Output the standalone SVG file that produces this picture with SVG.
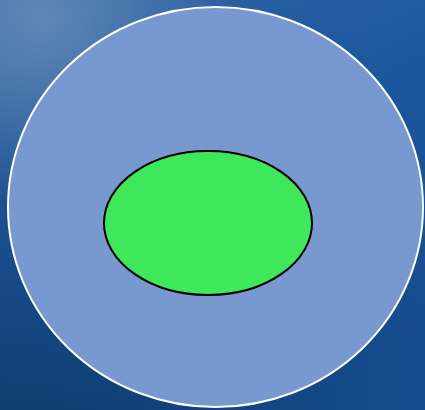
<svg xmlns="http://www.w3.org/2000/svg" width="425" height="410" viewBox="0 0 425 410">
<defs>
<linearGradient id="bg" x1="0" y1="0" x2="0.3" y2="1">
<stop offset="0" stop-color="#3a6aa6"/>
<stop offset="0.5" stop-color="#1a4f8f"/>
<stop offset="1" stop-color="#0f3a6c"/>
</linearGradient>
<radialGradient id="glow" cx="0.1" cy="0.05" r="0.45">
<stop offset="0" stop-color="#6f95be" stop-opacity="0.7"/>
<stop offset="1" stop-color="#6f95be" stop-opacity="0"/>
</radialGradient>
<linearGradient id="right" x1="0" y1="0" x2="1" y2="0">
<stop offset="0" stop-color="#1a5aa6" stop-opacity="0"/>
<stop offset="1" stop-color="#1a5aa6" stop-opacity="0.6"/>
</linearGradient>
</defs>
<style>
.outer{fill:#7799d0;stroke:#ffffff;stroke-width:2}
.inner{fill:#3ee85a;stroke:#000000;stroke-width:2}
</style>
<rect width="425" height="410" fill="url(#bg)"/>
<rect width="425" height="410" fill="url(#right)"/>
<rect width="425" height="410" fill="url(#glow)"/>
<g id="outer"><ellipse class="outer" cx="215.5" cy="207" rx="207.5" ry="200"/></g>
<g id="inner"><ellipse class="inner" cx="208" cy="223" rx="104" ry="72"/></g>
<g id="connectors"/>
</svg>
